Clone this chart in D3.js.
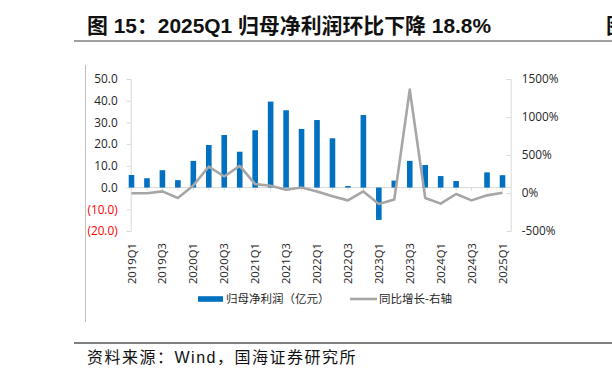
<!DOCTYPE html>
<html>
<head>
<meta charset="utf-8">
<script src="https://cdn.jsdelivr.net/npm/d3@7"></script>
<style>
  body { margin: 0; background: #fff; }
  text { font-family: "Open Sans", "Noto Sans CJK SC", sans-serif; }
</style>
</head>
<body>
<svg id="chart" width="612" height="379"></svg>
<script>
// data
var quarters = ["2019Q1","2019Q2","2019Q3","2019Q4","2020Q1","2020Q2","2020Q3","2020Q4",
    "2021Q1","2021Q2","2021Q3","2021Q4","2022Q1","2022Q2","2022Q3","2022Q4",
    "2023Q1","2023Q2","2023Q3","2023Q4","2024Q1","2024Q2","2024Q3","2024Q4","2025Q1"];
var profit = [5.8, 4.3, 8.0, 3.4, 12.3, 19.6, 24.2, 16.5, 26.4, 39.6, 35.6, 27.0, 31.1,
    22.7, 0.7, 33.4, -14.9, 3.2, 12.3, 10.4, 5.3, 3.0, 0, 7.0, 5.7];
var growth = [-3, -3, 21, -65, 100, 348, 217, 356, 117, 95, 43, 73, 21, -44, -97, 21,
    -144, -87, 1360, -65, -140, -13, -97, -31, 4];
var leftTicks = [-20, -10, 0, 10, 20, 30, 40, 50];
var rightTicks = [-500, 0, 500, 1000, 1500];
var legendNames = ["归母净利润（亿元）", "同比增长-右轴"];

var svg = d3.select("#chart");
var blue = "#0070c0", grey = "#a6a6a6", axisCol = "#d9d9d9", txt = "#262626";

// scales
var x = d3.scalePoint().domain(quarters).range([131.5, 502.5]);
var yL = d3.scaleLinear().domain([-20, 50]).range([231, 79]);
var yR = d3.scaleLinear().domain([-500, 1500]).range([231, 79]);

// title
svg.append("text")
    .attr("x", 87).attr("y", 33)
    .attr("font-size", 20.9).attr("font-weight", "bold").attr("fill", "#111")
    .style("font-family", "'Liberation Sans', Arial, 'Noto Sans CJK SC'")
    .text("图 15：2025Q1 归母净利润环比下降 18.8%");
// neighbouring figure title, clipped by the page edge as in the source
svg.append("text")
    .attr("x", 606).attr("y", 33)
    .attr("font-size", 20.9).attr("font-weight", "bold").attr("fill", "#111")
    .style("font-family", "'Noto Sans CJK SC'")
    .text("图");
svg.append("line")
    .attr("x1", 74).attr("x2", 612).attr("y1", 41).attr("y2", 41)
    .attr("stroke", "#7f7f7f").attr("stroke-width", 1.5);

// chart frame left edge
svg.append("line")
    .attr("x1", 85.5).attr("x2", 85.5).attr("y1", 65).attr("y2", 322)
    .attr("stroke", "#bfbfbf");

// left axis
var gL = svg.append("g")
    .attr("transform", "translate(130.7,0)")
    .call(d3.axisLeft(yL).tickValues(leftTicks).tickSize(4).tickPadding(9)
        .tickFormat(function(d) {
            return d < 0 ? "(" + Math.abs(d).toFixed(1) + ")" : d.toFixed(1); }));
gL.select(".domain").attr("stroke", axisCol);
gL.selectAll(".tick line").attr("stroke", axisCol);
gL.selectAll(".tick text")
    .attr("font-size", 11.8)
    .style("font-family", "'Open Sans'")
    .attr("fill", function(d) { return d < 0 ? "#ff0000" : txt; });

// right axis
var gR = svg.append("g")
    .attr("transform", "translate(510.7,0)")
    .call(d3.axisRight(yR).tickValues(rightTicks).tickSize(-4).tickPadding(11)
        .tickFormat(function(d) { return d + "%"; }));
gR.select(".domain").attr("stroke", axisCol);
gR.selectAll(".tick line").attr("stroke", axisCol);
gR.selectAll(".tick text")
    .attr("font-size", 11.8)
    .style("font-family", "'Open Sans'")
    .attr("fill", txt);

// zero line with category ticks
svg.append("line")
    .attr("x1", 130.7).attr("x2", 510.7)
    .attr("y1", yL(0)).attr("y2", yL(0))
    .attr("stroke", axisCol);
svg.append("g").selectAll("line")
    .data(quarters)
    .enter().append("line")
    .attr("x1", function(d) { return x(d); })
    .attr("x2", function(d) { return x(d); })
    .attr("y1", yL(0)).attr("y2", yL(0) + 3)
    .attr("stroke", axisCol);

// bars
svg.append("g").selectAll("rect")
    .data(profit)
    .enter().append("rect")
    .attr("x", function(d, i) { return x(quarters[i]) - 2.8; })
    .attr("width", 5.6)
    .attr("y", function(d) { return yL(Math.max(d, 0)); })
    .attr("height", function(d) { return Math.abs(yL(d) - yL(0)); })
    .attr("fill", blue);

// growth line
var line = d3.line()
    .x(function(d, i) { return x(quarters[i]); })
    .y(function(d) { return yR(d); });
svg.append("path")
    .datum(growth)
    .attr("d", line)
    .attr("fill", "none")
    .attr("stroke", grey)
    .attr("stroke-width", 2.6)
    .attr("stroke-linejoin", "round");

// x labels, every other quarter
svg.append("g").selectAll("text")
    .data(quarters.filter(function(d, i) { return i % 2 === 0; }))
    .enter().append("text")
    .attr("transform", function(d) { return "translate(" + x(d) + ",243) rotate(-90)"; })
    .attr("dy", "0.36em")
    .attr("text-anchor", "end")
    .attr("font-size", 11.3)
    .style("font-family", "'Open Sans'")
    .attr("fill", txt)
    .text(function(d) { return d; });

// legend
var lg = svg.append("g").attr("transform", "translate(0,299)");
lg.append("rect")
    .attr("x", 198).attr("y", -2.8).attr("width", 25).attr("height", 5.6)
    .attr("fill", blue);
lg.append("text")
    .attr("x", 226).attr("dy", "0.35em")
    .attr("font-size", 11.5).attr("fill", txt)
    .style("font-family", "'Noto Sans CJK SC'")
    .text(legendNames[0]);
lg.append("line")
    .attr("x1", 350).attr("x2", 377)
    .attr("stroke", grey).attr("stroke-width", 2.6);
lg.append("text")
    .attr("x", 379).attr("dy", "0.35em")
    .attr("font-size", 11.5).attr("fill", txt)
    .style("font-family", "'Noto Sans CJK SC'")
    .text(legendNames[1]);

// source footer
svg.append("line")
    .attr("x1", 74).attr("x2", 612).attr("y1", 343).attr("y2", 343)
    .attr("stroke", "#000").attr("stroke-width", 1.2);
svg.append("text")
    .attr("x", 87).attr("y", 363)
    .attr("font-size", 16).attr("fill", "#111")
    .attr("letter-spacing", 1.5)
    .style("font-family", "'Liberation Sans', 'Noto Sans CJK SC'")
    .text("资料来源：Wind，国海证券研究所");
</script>
</body>
</html>
